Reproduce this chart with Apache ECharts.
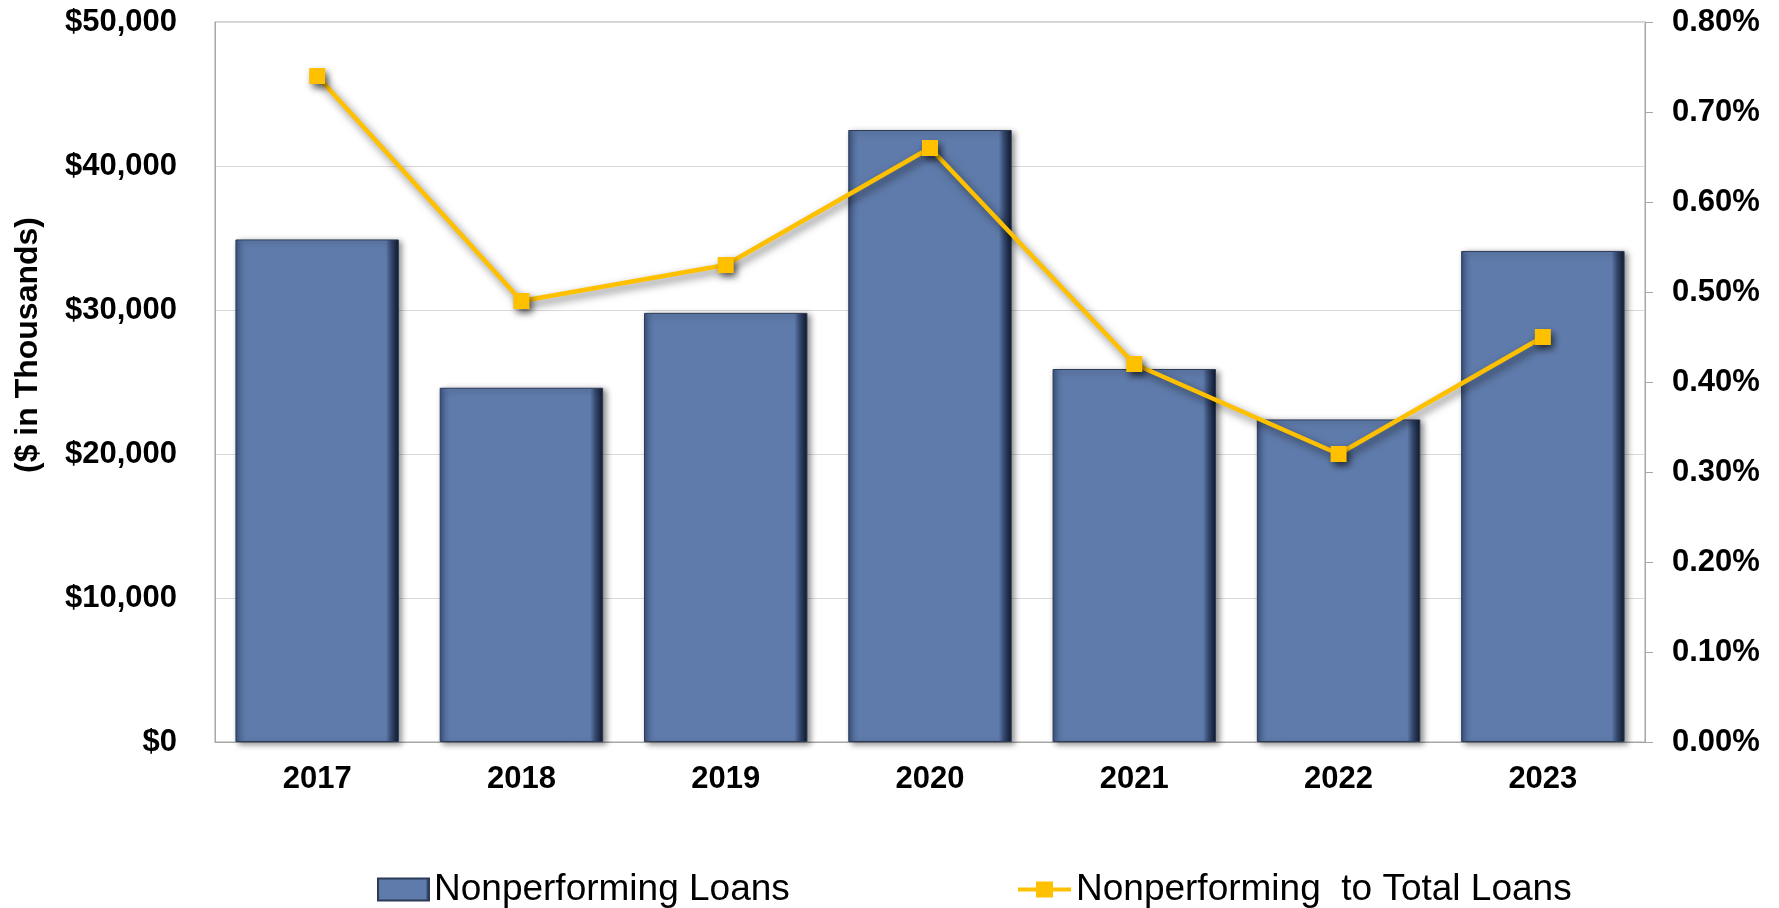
<!DOCTYPE html>
<html>
<head>
<meta charset="utf-8">
<script src="https://cdn.jsdelivr.net/npm/echarts@6/dist/echarts.min.js"></script>
<style>
html,body{margin:0;padding:0;background:#fff;}
#chart{width:1779px;height:908px;}
</style>
</head>
<body>
<div id="chart"></div>
<script>
var categories = ['2017', '2018', '2019', '2020', '2021', '2022', '2023'];
var loans = [34900, 24600, 29800, 42500, 25900, 22400, 34100];
var ratio = [0.74, 0.49, 0.53, 0.66, 0.42, 0.32, 0.45];
var leftTicks = [0, 10000, 20000, 30000, 40000, 50000];
var rightTicks = [0, 0.1, 0.2, 0.3, 0.4, 0.5, 0.6, 0.7, 0.8];
var barName = 'Nonperforming Loans';
var lineName = 'Nonperforming  to Total Loans';
var yTitle = '($ in Thousands)';

var FONT = '"Liberation Sans", Arial, sans-serif';
var chart = echarts.init(document.getElementById('chart'), null, {renderer: 'canvas'});

var barGradient = new echarts.graphic.LinearGradient(0, 0, 1, 0, [
  {offset: 0, color: '#3a507b'},
  {offset: 0.035, color: '#5873a3'},
  {offset: 0.06, color: '#5f7bab'},
  {offset: 0.92, color: '#5f7bab'},
  {offset: 0.955, color: '#33466b'},
  {offset: 1, color: '#0f1829'}
]);

function fmtMoney(v) {
  return '$' + Math.round(v).toString().replace(/\B(?=(\d{3})+(?!\d))/g, ',');
}

var lineIcon = 'path://M0,6L18,6L18,0L35,0L35,6L53,6L53,10L35,10L35,16L18,16L18,10L0,10Z';

var option = {
  animation: false,
  backgroundColor: '#ffffff',
  grid: {
    left: 215, right: 134, top: 22, bottom: 166,
    show: true, borderColor: '#a6a6a6', borderWidth: 1,
    outerBoundsMode: 'none'
  },
  legend: [
    {
      data: [{name: barName, icon: 'rect'}],
      left: 372, top: 866,
      itemWidth: 51, itemHeight: 22,
      textStyle: {fontFamily: FONT, fontSize: 37, color: '#000'}
    },
    {
      data: [{name: lineName, icon: lineIcon}],
      left: 1013, top: 866,
      itemWidth: 53, itemHeight: 16,
      textStyle: {fontFamily: FONT, fontSize: 37, color: '#000'}
    }
  ],
  graphic: [{
    type: 'text',
    x: 28, y: 345,
    rotation: Math.PI / 2,
    style: {
      text: yTitle,
      fontFamily: FONT, fontSize: 32, fontWeight: 'bold', fill: '#000',
      textAlign: 'center', textVerticalAlign: 'middle'
    }
  }],
  xAxis: {
    type: 'category',
    data: categories,
    boundaryGap: true,
    axisLine: {show: true, lineStyle: {color: '#a6a6a6', width: 1}},
    axisTick: {show: false},
    axisLabel: {fontFamily: FONT, fontSize: 31, fontWeight: 'bold', color: '#000', margin: 22}
  },
  yAxis: [
    {
      type: 'value', min: leftTicks[0], max: leftTicks[leftTicks.length - 1], interval: leftTicks[1] - leftTicks[0],
      position: 'left',
      axisLine: {show: true, lineStyle: {color: '#a6a6a6', width: 1}},
      axisTick: {show: false},
      splitLine: {show: true, lineStyle: {color: '#d9d9d9', width: 1}},
      axisLabel: {fontFamily: FONT, fontSize: 31, fontWeight: 'bold', color: '#000', margin: 38, formatter: fmtMoney}
    },
    {
      type: 'value', min: rightTicks[0], max: rightTicks[rightTicks.length - 1], interval: 0.1,
      position: 'right',
      axisLine: {show: true, lineStyle: {color: '#a6a6a6', width: 1}},
      axisTick: {show: true, inside: false, length: 8, lineStyle: {color: '#a6a6a6'}},
      splitLine: {show: false},
      axisLabel: {fontFamily: FONT, fontSize: 31, fontWeight: 'bold', color: '#000', margin: 27,
        formatter: function (v) { return v.toFixed(2) + '%'; }}
    }
  ],
  series: [
    {
      name: barName,
      type: 'bar',
      data: loans,
      yAxisIndex: 0,
      barCategoryGap: '20%',
      itemStyle: {
        color: barGradient,
        borderColor: '#2c3b58',
        borderWidth: 1,
        shadowColor: 'rgba(0,0,0,0.45)',
        shadowBlur: 6,
        shadowOffsetX: 3,
        shadowOffsetY: 2
      }
    },
    {
      name: lineName,
      type: 'line',
      data: ratio,
      yAxisIndex: 1,
      symbol: 'rect',
      symbolSize: 16,
      lineStyle: {
        color: '#ffc000', width: 4.5,
        shadowColor: 'rgba(0,0,0,0.55)', shadowBlur: 8, shadowOffsetX: 3, shadowOffsetY: 4
      },
      itemStyle: {
        color: '#ffc000',
        shadowColor: 'rgba(0,0,0,0.6)', shadowBlur: 7, shadowOffsetX: 3, shadowOffsetY: 4
      }
    }
  ]
};
chart.setOption(option);
</script>
</body>
</html>
